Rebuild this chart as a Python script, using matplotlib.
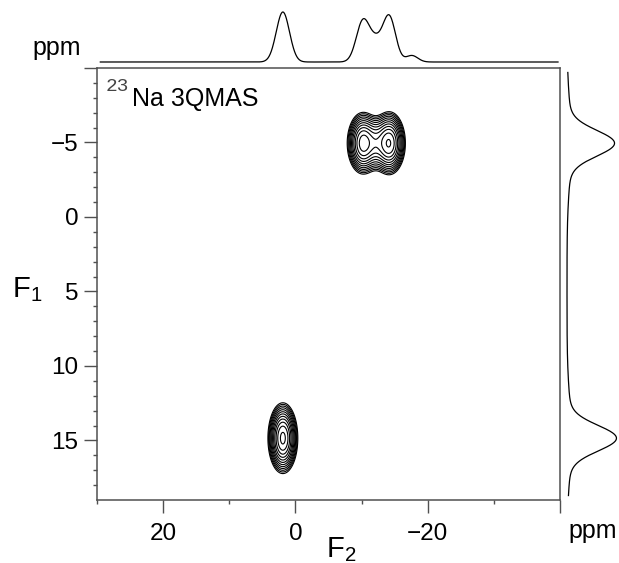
import numpy as np
import matplotlib
matplotlib.use("Agg")
import matplotlib.pyplot as plt
from matplotlib.ticker import FixedLocator

plt.rcParams["font.family"] = ["Liberation Sans", "DejaVu Sans"]
plt.rcParams["mathtext.fontset"] = "custom"
plt.rcParams["mathtext.rm"] = "Liberation Sans"

# ---- 2D 23Na 3QMAS peaks: F2 shift, F1 shift, F2 width, F1 width, amplitude
peak_f2 = [1.9, -10.2, -14.2, -12.2]
peak_f1 = [14.85, -4.95, -4.95, -4.95]
peak_w2 = [0.78, 0.85, 0.85, 1.25]
peak_w1 = [0.82, 0.74, 0.74, 0.70]
peak_amp = [1.0, 0.70, 0.84, 0.36]

# contour levels (geometric series)
level_base = 0.015
level_factor = 1.45
level_count = 12

# ---- F2 (top) projection components: shift, width, height
top_pos = [1.9, -10.2, -14.2, -12.2, -17.6]
top_wid = [1.0, 1.0, 0.95, 1.0, 0.9]
top_hgt = [1.0, 0.81, 0.89, 0.37, 0.13]

# ---- F1 (right) projection components: shift, width, height
side_pos = [-4.95, 14.85, -4.95, 14.85]
side_wid = [0.85, 0.85, 2.6, 2.6]
side_hgt = [0.90, 0.94, 0.09, 0.09]

f2_range = (30, -40)
f1_range = (19, -10)

W, H = 619, 563


def rect(x0, y0, x1, y1):
    return [x0 / W, 1 - y1 / H, (x1 - x0) / W, (y1 - y0) / H]


def gauss(x, c, w):
    return np.exp(-0.5 * ((x - c) / w) ** 2)


fig = plt.figure(figsize=(W / 100, H / 100), dpi=100)
ax = fig.add_axes(rect(97, 68, 560, 500))
ax_top = fig.add_axes(rect(97, 8, 560, 66))
ax_side = fig.add_axes(rect(560, 68, 619, 500))

# 2D spectrum
f2 = np.linspace(30, -40, 1401)
f1 = np.linspace(-10, 19, 1161)
X, Y = np.meshgrid(f2, f1)
Z = np.zeros_like(X)
for c2, c1, w2, w1, a in zip(peak_f2, peak_f1, peak_w2, peak_w1, peak_amp):
    Z += a * gauss(X, c2, w2) * gauss(Y, c1, w1)
levels = level_base * level_factor ** np.arange(level_count)
ax.contour(X, Y, Z, levels=levels, colors="black", linewidths=0.8)

ax.set_xlim(*f2_range)
ax.set_ylim(*f1_range)

frame = "#505050"
for s in ax.spines.values():
    s.set_color(frame)
    s.set_linewidth(1.1)

ax.xaxis.set_major_locator(FixedLocator([20, 0, -20, -40]))
ax.xaxis.set_minor_locator(FixedLocator([30, 10, -10, -30]))
ax.set_xticklabels(["20", "0", "\u221220", ""])
ax.yaxis.set_major_locator(FixedLocator([-10, -5, 0, 5, 10, 15]))
ax.yaxis.set_minor_locator(FixedLocator([v for v in range(-9, 19) if v % 5]))
ax.set_yticklabels(["", "\u22125", "0", "5", "10", "15"])
ax.tick_params(which="both", direction="out", color=frame, width=1.0,
               labelsize=17.5, top=False, right=False)
ax.tick_params(which="major", length=9.4)
ax.tick_params(which="minor", length=3.2)
ax.tick_params(axis="x", which="major", pad=7)
ax.tick_params(axis="y", which="major", pad=4)

# F2 projection
xt = np.linspace(29.5, -39.7, 1200)
yt = np.zeros_like(xt)
for c, w, h in zip(top_pos, top_wid, top_hgt):
    yt += h * gauss(xt, c, w)
ax_top.plot(xt, yt, color="black", lw=0.9)
ax_top.set_xlim(*f2_range)
ax_top.set_ylim(-0.08, 1.08)
ax_top.axis("off")

# F1 projection
ys = np.linspace(-9.7, 18.7, 1000)
xs = np.zeros_like(ys)
for c, w, h in zip(side_pos, side_wid, side_hgt):
    xs += h * gauss(ys, c, w)
ax_side.plot(xs, ys, color="black", lw=0.9)
ax_side.set_ylim(*f1_range)
ax_side.set_xlim(-0.146, 1.083)
ax_side.axis("off")

# labels
fig.text(32 / W, 1 - 55 / H, "ppm", fontsize=18, ha="left", va="baseline")
fig.text(568 / W, 1 - 538 / H, "ppm", fontsize=18, ha="left", va="baseline")
fig.text(12 / W, 1 - 297 / H, r"$\mathregular{F_1}$", fontsize=21,
         ha="left", va="baseline")
fig.text(326 / W, 1 - 557 / H, r"$\mathregular{F_2}$", fontsize=21,
         ha="left", va="baseline")
fig.text(106 / W, 1 - 91 / H, "23", fontsize=14, family="Liberation Mono",
         color="#444444", ha="left", va="baseline")
fig.text(132 / W, 1 - 106 / H, "Na 3QMAS", fontsize=18, ha="left",
         va="baseline")

fig.savefig("out.png", dpi=100)
